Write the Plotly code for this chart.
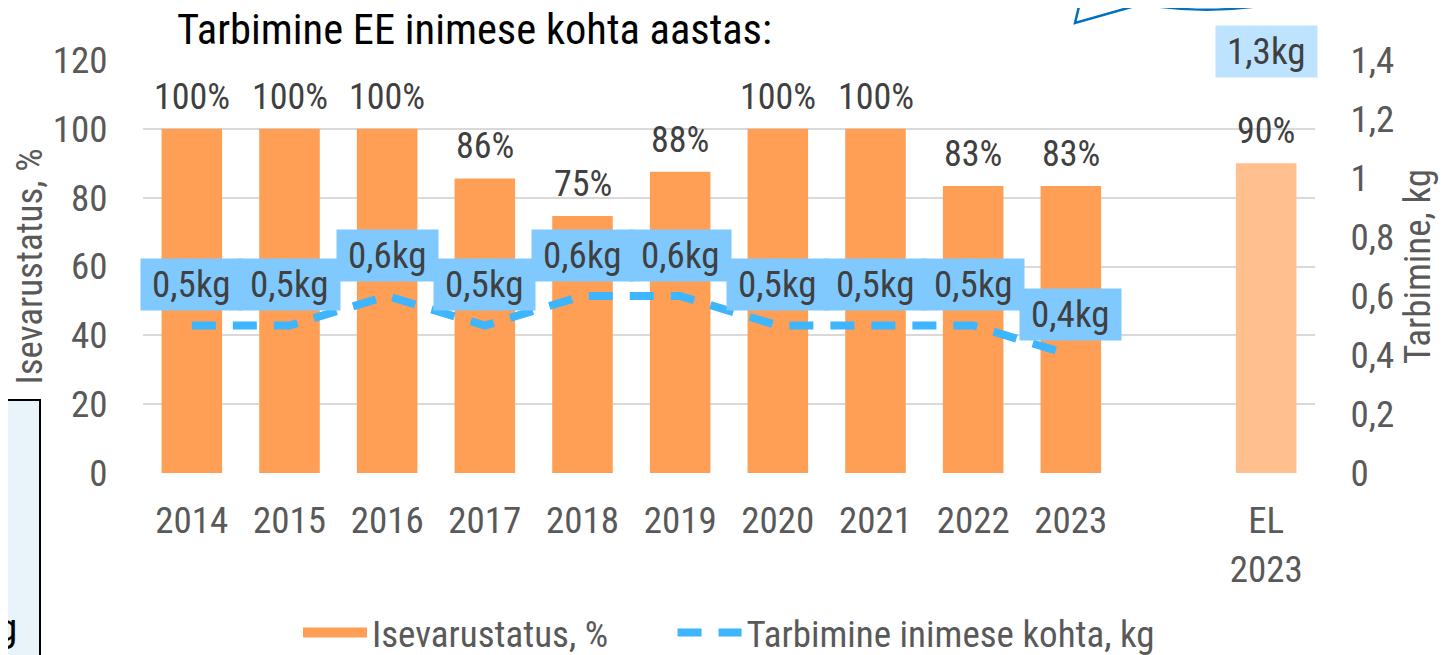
import plotly.graph_objects as go

years = ["2014", "2015", "2016", "2017", "2018", "2019", "2020", "2021", "2022", "2023"]
self_sufficiency = [100, 100, 100, 85.6, 74.7, 87.5, 100, 100, 83.4, 83.4]
consumption_kg = [0.5, 0.5, 0.6, 0.5, 0.6, 0.6, 0.5, 0.5, 0.5, 0.4]
eu_label = "EL<br>2023"
eu_self_sufficiency = 90
eu_consumption_kg = 1.3

FONT = "Roboto Condensed, Liberation Sans Narrow, DejaVu Sans Condensed, Roboto, sans-serif"
TXT = "#404040"
AX = "#595959"
ORANGE = "#FF9F55"
BLUE = "#3DB5FF"
CLEAR = "rgba(0,0,0,0)"
NB = "\u00a0"
TS = "\u2009"

# page offset of the plot div (browser body margin)
OX, OY = 8, 8
W, H = 1452 - OX, 655 - OY
# plot area in screen pixels
L, R, T, B = 143, 1315, 60, 473

def px(x):
    return (x - L) / (R - L)

def py(y):
    return (B - y) / (B - T)

xs = list(range(len(years)))
eu_x = len(years) + 1

fig = go.Figure()
fig.add_trace(go.Bar(
    x=xs, y=self_sufficiency, name="Isevarustatus, %", showlegend=False,
    marker=dict(color=ORANGE, line=dict(width=0)), width=0.62,
))
fig.add_trace(go.Bar(
    x=[eu_x], y=[eu_self_sufficiency], showlegend=False,
    marker=dict(color="#FFBF8F", line=dict(width=0)), width=0.62,
))
# legend entry for the bars (wide swatch)
fig.add_trace(go.Scatter(
    x=[None], y=[None], mode="lines", name="Isevarustatus, %" + NB * 7,
    line=dict(color=ORANGE, width=22),
))
fig.add_trace(go.Scatter(
    x=xs, y=consumption_kg, yaxis="y2", mode="lines",
    name="Tarbimine inimese kohta, kg",
    line=dict(color=BLUE, width=8, dash="24px,17px"),
))

ann = []
for x, v in zip(xs + [eu_x], self_sufficiency + [eu_self_sufficiency]):
    ann.append(dict(x=x, y=v, xref="x", yref="y", text=f"{v:.0f}%", showarrow=False,
                    yshift=32, font=dict(size=36, color=TXT, family=FONT)))
for x, v in zip(xs, consumption_kg):
    ann.append(dict(x=x, y=v, xref="x", yref="y2", text=TS + f"{v:.1f}kg".replace(".", ",") + TS,
                    showarrow=False, yshift=41, bgcolor="#7FC9FF", borderpad=4,
                    font=dict(size=37, color=TXT, family=FONT)))
ann.append(dict(x=eu_x, y=eu_consumption_kg, xref="x", yref="y2",
                text=TS + f"{eu_consumption_kg:.1f}kg".replace(".", ",") + TS,
                showarrow=False, yshift=38, bgcolor="#BDE3FF", borderpad=4,
                font=dict(size=37, color=TXT, family=FONT)))
ann.append(dict(x=px(175), y=py(29), xref="paper", yref="paper", xanchor="left", yanchor="middle",
                text="Tarbimine EE inimese kohta aastas:", showarrow=False,
                font=dict(size=42.5, color="#000000", family=FONT)))
ann.append(dict(x=px(19), y=py(628), xref="paper", yref="paper", xanchor="right", yanchor="middle",
                text="g", showarrow=False,
                font=dict(size=38, color="#000000", family="Roboto, sans-serif")))

shapes = [
    dict(type="rect", xref="paper", yref="paper", x0=px(-10), x1=px(40), y0=py(400), y1=py(665),
         fillcolor="#E8F3FA", line=dict(color="#000000", width=2), layer="below"),
    dict(type="path", xref="paper", yref="paper",
         path=(f"M {px(1081)} {py(-2)} L {px(1075)} {py(23)} L {px(1142)} {py(4)} "
               f"Q {px(1220)} {py(18)} {px(1300)} {py(-2)}"),
         line=dict(color="#0070C0", width=2.5)),
]

fig.update_layout(
    width=W, height=H,
    margin=dict(l=L - OX, r=W - (R - OX), t=T - OY, b=H - (B - OY), autoexpand=False),
    paper_bgcolor="white", plot_bgcolor="white",
    separators=", ",
    font=dict(family=FONT, color=AX, size=37),
    xaxis=dict(range=[-0.5, eu_x + 0.5], tickvals=xs + [eu_x], ticktext=years + [eu_label],
               showgrid=False, zeroline=False, showline=False,
               ticks="outside", ticklen=15, tickcolor=CLEAR,
               tickfont=dict(size=37, color=AX, family=FONT), automargin=False),
    yaxis=dict(range=[0, 120], dtick=20, gridcolor="#D9D9D9", gridwidth=2, zeroline=False,
               ticks="outside", ticklen=27, tickcolor=CLEAR,
               tickfont=dict(size=37, color=AX, family=FONT), automargin=False,
               title=dict(text="Isevarustatus, %", font=dict(size=37, color=AX, family=FONT), standoff=6)),
    yaxis2=dict(range=[0, 1.4], dtick=0.2, overlaying="y", side="right", showgrid=False, zeroline=False,
                ticks="outside", ticklen=27, tickcolor=CLEAR,
                tickfont=dict(size=37, color=AX, family=FONT), automargin=False,
                title=dict(text="Tarbimine, kg", font=dict(size=37, color=AX, family=FONT), standoff=10)),
    legend=dict(orientation="h", x=0.5, xanchor="center", y=py(633), yanchor="middle",
                font=dict(size=37, color=AX, family=FONT), itemwidth=64, tracegroupgap=0),
    annotations=ann, shapes=shapes,
)

fig.write_html("out.html")
